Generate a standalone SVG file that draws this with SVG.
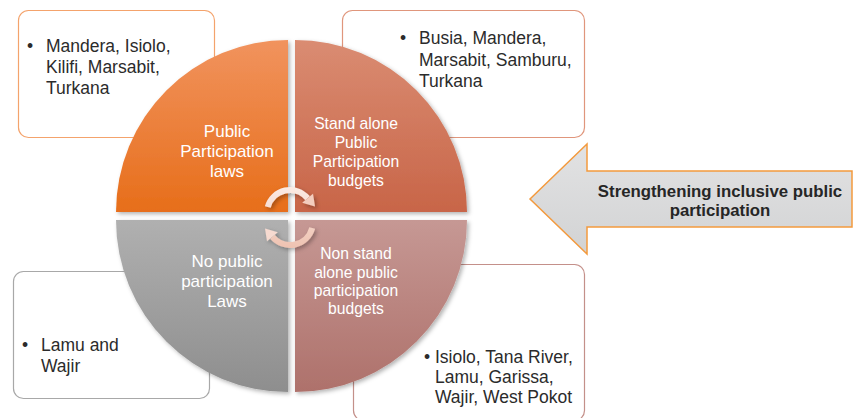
<svg xmlns="http://www.w3.org/2000/svg" width="857" height="418" viewBox="0 0 857 418">
<style>
.box{fill:#fff;stroke-width:1.2}
.bt{font-family:"Liberation Sans",Arial,sans-serif;font-size:17.5px;fill:#2b2b2b}
.ql{font-family:"Liberation Sans",Arial,sans-serif;font-size:17px;fill:#fff;text-anchor:middle}
.qr{font-family:"Liberation Sans",Arial,sans-serif;font-size:15.7px;fill:#fff;text-anchor:middle}
.at{font-family:"Liberation Sans",Arial,sans-serif;font-size:16.8px;font-weight:bold;fill:#262626;text-anchor:middle}
.cyc{fill:none;stroke:url(#gC);stroke-width:6}
</style>
<defs>
<linearGradient id="gTL" x1="0" y1="0" x2="0" y2="1"><stop offset="0" stop-color="#F1935E"/><stop offset="1" stop-color="#E76E1A"/></linearGradient>
<linearGradient id="gTR" x1="0" y1="0" x2="0" y2="1"><stop offset="0" stop-color="#DA8C72"/><stop offset="1" stop-color="#C86548"/></linearGradient>
<linearGradient id="gBL" x1="0" y1="0" x2="0" y2="1"><stop offset="0" stop-color="#B0B0B0"/><stop offset="1" stop-color="#8E8E8E"/></linearGradient>
<linearGradient id="gBR" x1="0" y1="0" x2="0" y2="1"><stop offset="0" stop-color="#C69894"/><stop offset="1" stop-color="#AE716B"/></linearGradient>
<linearGradient id="gA" x1="0" y1="0" x2="0" y2="1"><stop offset="0" stop-color="#E2E2E3"/><stop offset="1" stop-color="#D2D3D4"/></linearGradient>
<linearGradient id="gC" gradientUnits="userSpaceOnUse" x1="0" y1="188" x2="0" y2="248"><stop offset="0" stop-color="#FBEAE3"/><stop offset="1" stop-color="#EEC2B1"/></linearGradient>
<filter id="sh" x="-10%" y="-10%" width="125%" height="125%"><feDropShadow dx="2" dy="2" stdDeviation="2" flood-color="#000" flood-opacity="0.3"/></filter>
</defs>

<g id="box-tl">
<rect class="box" x="18.5" y="10.5" width="196" height="127" rx="10" stroke="#F4A36C"/>
</g>
<g id="box-tr">
<rect class="box" x="342.5" y="10.5" width="242" height="127" rx="10" stroke="#E0967C"/>
</g>
<g id="box-bl">
<rect class="box" x="13.5" y="271.5" width="196" height="127" rx="10" stroke="#A8A8A8"/>
</g>
<g id="box-br">
<rect class="box" x="353.5" y="264.5" width="231" height="156" rx="10" stroke="#C4908A"/>
</g>

<g id="quad-tl" filter="url(#sh)">
<path d="M288 212 L116 212 A172 172 0 0 1 288 40 Z" fill="url(#gTL)"/>
</g>
<g id="quad-tr" filter="url(#sh)">
<path d="M295 212 L295 40 A172 172 0 0 1 467 212 Z" fill="url(#gTR)"/>
</g>
<g id="quad-bl" filter="url(#sh)">
<path d="M288 220 L288 392 A172 172 0 0 1 116 220 Z" fill="url(#gBL)"/>
</g>
<g id="quad-br" filter="url(#sh)">
<path d="M295 220 L467 220 A172 172 0 0 1 295 392 Z" fill="url(#gBR)"/>
</g>

<g id="connectors" filter="url(#sh)">
<path class="cyc" d="M267.8 207 A23 23 0 0 1 307.6 198.2"/>
<polygon points="313,193.7 315,206.5 302.2,202.7" fill="#F3CDBE"/>
<path class="cyc" d="M312.2 228 A23 23 0 0 1 272.4 236.8"/>
<polygon points="267,241.3 265,228.5 277.8,232.3" fill="#F6DAD0"/>
</g>

<g id="text-tl">
<text class="bt" x="30" y="52" text-anchor="middle">•</text>
<text class="bt"><tspan x="46" y="52">Mandera, Isiolo,</tspan><tspan x="46" y="73">Kilifi, Marsabit,</tspan><tspan x="46" y="94">Turkana</tspan></text>
</g>
<g id="text-tr">
<text class="bt" x="403" y="44" text-anchor="middle">•</text>
<text class="bt"><tspan x="419" y="44">Busia, Mandera,</tspan><tspan x="419" y="65.5">Marsabit, Samburu,</tspan><tspan x="419" y="87">Turkana</tspan></text>
</g>
<g id="text-bl">
<text class="bt" x="25" y="350.5" text-anchor="middle">•</text>
<text class="bt"><tspan x="41" y="350.5">Lamu and</tspan><tspan x="41" y="372">Wajir</tspan></text>
</g>
<g id="text-br">
<text class="bt" x="427" y="363" text-anchor="middle">•</text>
<text class="bt"><tspan x="435" y="363">Isiolo, Tana River,</tspan><tspan x="435" y="383">Lamu, Garissa,</tspan><tspan x="435" y="402.5">Wajir, West Pokot</tspan></text>
</g>

<g id="label-tl">
<text class="ql"><tspan x="227" y="137">Public</tspan><tspan x="227" y="157">Participation</tspan><tspan x="227" y="177">laws</tspan></text>
</g>
<g id="label-tr">
<text class="qr"><tspan x="356" y="129">Stand alone</tspan><tspan x="356" y="148">Public</tspan><tspan x="356" y="167">Participation</tspan><tspan x="356" y="185.5">budgets</tspan></text>
</g>
<g id="label-bl">
<text class="ql"><tspan x="227" y="267">No public</tspan><tspan x="227" y="287">participation</tspan><tspan x="227" y="307">Laws</tspan></text>
</g>
<g id="label-br">
<text class="qr"><tspan x="356" y="259">Non stand</tspan><tspan x="356" y="277.5">alone public</tspan><tspan x="356" y="296">participation</tspan><tspan x="356" y="314">budgets</tspan></text>
</g>

<g id="arrow-main">
<polygon points="530,199 587,144 587,171 852,171 852,227 587,227 587,254" fill="url(#gA)" stroke="#F39A3E" stroke-width="1.5" stroke-linejoin="miter"/>
<text class="at"><tspan x="720" y="197">Strengthening inclusive public</tspan><tspan x="720" y="215.5">participation</tspan></text>
</g>
</svg>
